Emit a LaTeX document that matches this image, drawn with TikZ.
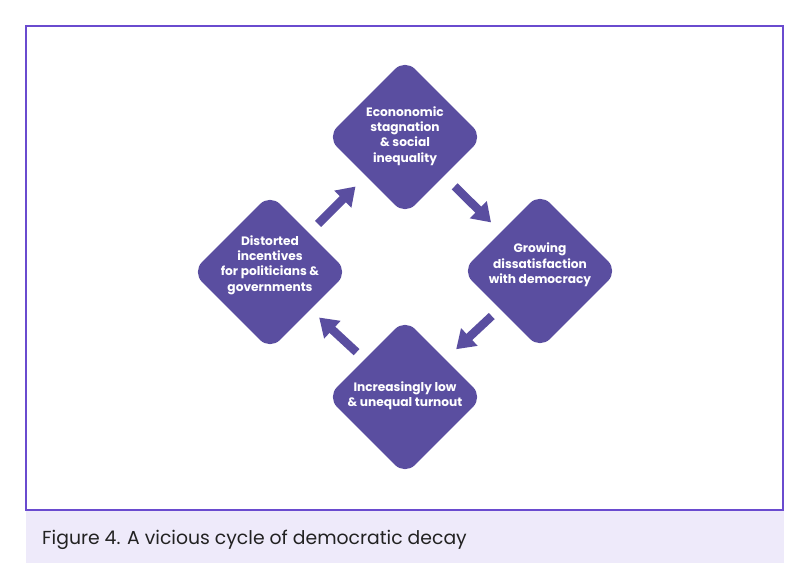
\documentclass[tikz,border=0pt]{standalone}
\usepackage{fontspec}
\setmainfont{Poppins}
\usetikzlibrary{shapes.geometric,arrows.meta}
\definecolor{dia}{HTML}{5A4EA0}
\definecolor{framec}{HTML}{6A4BCF}
\definecolor{capfill}{HTML}{EEEAFA}
\definecolor{captext}{HTML}{222222}
\tikzset{
  diabox/.style={diamond, aspect=1, fill=dia, draw=none, rounded corners=14pt,
    minimum width=156pt, minimum height=156pt, inner sep=0pt},
  diatext/.style={text=white, font=\bfseries\fontsize{12.2}{15.4}\selectfont,
    align=center, inner sep=0pt},
  fat/.style={draw=dia, line width=8.5pt,
    -{Triangle[width=23pt,length=18pt]}}
}
\begin{document}
\begin{tikzpicture}[x=1pt,y=-1pt]
\useasboundingbox (0,0) rectangle (810,586);
\fill[white] (0,0) rectangle (810,586);
\fill[capfill] (26,510) rectangle (784,563);
\draw[framec, line width=2pt] (26,26) rectangle (783,510);
\node[anchor=west, text=captext, font=\fontsize{18.8}{21}\selectfont, inner sep=0pt] (cap) at (42,540) {Figure 4. A vicious cycle of democratic decay};

\node[diabox] (top) at (405,137) {};
\node[diabox] (right) at (540,271) {};
\node[diabox] (bottom) at (405,397) {};
\node[diabox] (left) at (270,272) {};

\node[diatext] (ttop) at (405,136) {Econonomic\\stagnation\\\& social\\inequality};
\node[diatext] (tright) at (540,265) {Growing\\dissatisfaction\\with democracy};
\node[diatext] (tbottom) at (405,396) {Increasingly low\\\& unequal turnout};
\node[diatext] (tleft) at (270,265) {Distorted\\incentives\\for politicians \&\\governments};

\draw[fat, shorten <=68pt, shorten >=70pt] (left.center) -- (top.center);
\draw[fat, shorten <=70pt, shorten >=69pt] (top.center) -- (right.center);
\draw[fat, shorten <=66pt, shorten >=70pt] (right.center) -- (bottom.center);
\draw[fat, shorten <=66pt, shorten >=67pt] (bottom.center) -- (left.center);
\end{tikzpicture}
\end{document}
